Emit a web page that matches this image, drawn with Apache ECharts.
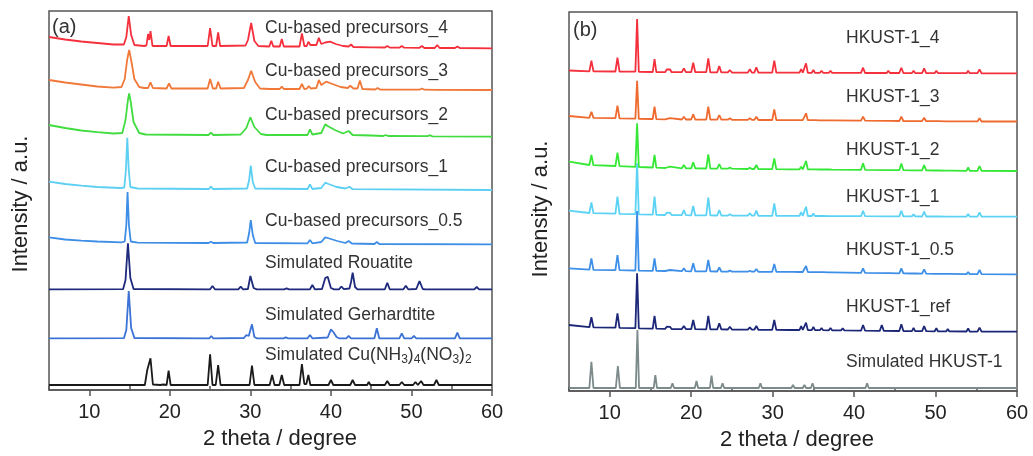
<!DOCTYPE html>
<html>
<head>
<meta charset="utf-8">
<script src="https://cdn.jsdelivr.net/npm/echarts@6/dist/echarts.min.js"></script>
<style>
  html, body { margin: 0; padding: 0; background: #fff; }
  #chart { width: 1033px; height: 456px; }
</style>
</head>
<body>
<div id="chart"></div>
<script>
// ---------- axis ticks ----------
const thetaTicks = [10, 20, 30, 40, 50, 60];
const thetaMinorTicks = [5, 15, 25, 35, 45, 55];

// ---------- panel (a): Cu-based precursors, [2theta, stacked intensity] ----------
const namesA = [
  'Cu-based precursors_4', 'Cu-based precursors_3', 'Cu-based precursors_2',
  'Cu-based precursors_1', 'Cu-based precursors_0.5', 'Simulated Rouatite',
  'Simulated Gerhardtite', 'Simulated Cu(NH3)4(NO3)2'
];

const precursor4 = [
  [5,353],[7,350.5],[9,348.5],[11,347],[13,345.5],[14.3,345.5],[14.6,353],[14.9,374],[15.2,355],[15.6,345],[16.8,344],
  [17.1,344.5],[17.3,356],[17.45,350],[17.6,359],[17.85,344],
  [19.6,344],[19.85,354],[20.1,344],
  [24.7,344],[25.0,362],[25.3,344],[25.75,344],[26.0,357.7],[26.25,344],
  [29.4,344.5],[29.7,350],[30.1,367],[30.5,349],[31,344],
  [32.35,343.5],[32.6,349.3],[32.85,343.5],
  [33.65,343.5],[33.9,351],[34.15,343.5],
  [36.1,343.5],[36.4,356.7],[36.7,344],[37.0,344],[37.2,348.3],[37.45,345],
  [38.2,345],[38.5,352.3],[38.8,346],[39.3,347.5],[39.9,348.3],[40.6,346],[41.5,344],
  [42.2,343.5],[42.5,345.5],[42.8,343],
  [45.0,342.7],[45.2,344],[45.4,342.7],
  [46.7,342.5],[47.0,344],[47.3,342.5],
  [48.5,342.3],[48.8,344],[49.1,342.3],
  [51.0,342.2],[51.3,344],[51.6,342],
  [52.9,342],[53.2,345],[53.5,342],
  [55.4,342],[55.7,343.5],[56.0,342],[60,341.7]
];

const precursor3 = [
  [5,310],[7,307.5],[9,305.5],[11,303.5],[13,302.3],[14.0,303],[14.4,311],[14.7,330],[14.95,340],[15.2,330],[15.6,311],[16.2,303],[16.8,302],
  [17.3,302],[17.6,307.7],[17.9,302],
  [19.6,301.5],[19.9,306.7],[20.2,301.5],
  [24.7,301.5],[25.0,311],[25.35,301.5],[25.75,301.5],[26.0,308.3],[26.3,301.5],
  [29.2,302],[29.7,310],[30.1,319.3],[30.6,308],[31.2,301.5],
  [32.4,301],[32.6,302.7],[32.85,301],
  [33.65,301],[33.9,303.3],[34.15,301],
  [36.1,301],[36.4,306],[36.7,301],[37.0,301.3],[37.25,304],[37.5,301.5],
  [38.2,302],[38.5,310],[38.8,305],[39.4,308.3],[40.2,306],[41.2,303],[42.1,302],[42.4,304.3],[42.8,301.5],
  [43.3,301.5],[43.6,309.5],[43.9,301],
  [45.5,300.5],[45.8,302],[46.1,300.5],
  [51.0,300.3],[51.3,301.5],[51.6,300.3],
  [53.0,300.2],[53.2,301.5],[53.4,300.2],[60,300]
];

const precursor2 = [
  [5,265],[7,262],[9,259.5],[11,257.8],[13,256.5],[14.1,257],[14.5,270],[14.8,290],[14.95,296.7],[15.15,288],[15.5,268],[16.2,257],[17,255.5],
  [24.8,255],[25.1,257.3],[25.4,255],
  [28.8,255.5],[29.5,262],[30.0,272.7],[30.5,263],[31.3,256],[32,255],
  [37.1,255],[37.4,260.7],[37.7,255.5],[38.8,257],[39.3,265.7],[39.6,264],[40.5,260],[41.5,256.5],[42.2,259],[42.7,255],
  [45,254.5],[46.5,254],[46.8,255],[47.1,254],[52,253.8],[52.3,254.8],[52.6,253.6],[60,253.3]
];

const precursor1 = [
  [5,208.3],[7,206],[9,204.3],[11,203],[13.9,202],[14.35,202.5],[14.55,220],[14.72,252.3],[14.9,220],[15.1,203],[16,201.5],
  [24.85,201],[25.1,203.3],[25.35,201],
  [29.6,201.5],[29.85,210],[30.05,224.3],[30.3,208],[30.6,201.5],
  [37.1,201],[37.4,205.7],[37.7,201],[38.8,202],[39.3,207.3],[39.7,206],[40.7,203],[41.8,201.5],[42.3,203.3],[42.7,200.8],[60,200]
];

const precursor05 = [
  [5,152.7],[7,150.5],[9,149.3],[11,148.5],[14.0,147.7],[14.4,148.5],[14.6,165],[14.75,198],[14.92,165],[15.15,148.5],[16,147.3],
  [24.8,147],[25.1,148.3],[25.4,147],
  [29.6,147.5],[29.85,157],[30.05,170],[30.3,155],[30.6,147],
  [37.1,146.7],[37.4,150],[37.7,146.7],[38.8,148],[39.3,152.7],[39.8,151.5],[40.8,149],[41.8,147],[42.2,149],[42.6,146.5],
  [45.4,146],[45.7,148],[46.0,146],[60,145.7]
];

const rouatite = [
  [5,100.7],[14.2,100.8],[14.5,110],[14.8,146.7],[15.1,112],[15.5,101],
  [25.0,100.7],[25.3,104],[25.6,100.7],
  [28.5,100.7],[28.8,103.3],[29.1,100.7],
  [29.7,101],[30.0,114],[30.4,102],[30.8,100.7],
  [34.2,100.7],[34.5,101.7],[34.8,100.7],
  [37.4,100.7],[37.7,105],[38.0,100.7],
  [38.9,101],[39.3,112],[39.6,113.3],[40.0,102],[40.4,100.7],
  [41.0,100.7],[41.3,103.5],[41.6,100.9],
  [42.3,101.5],[42.5,108],[42.7,117.3],[43.0,103],[43.3,100.7],
  [46.7,100.7],[47.0,107.3],[47.3,100.7],
  [49.0,100.7],[49.3,104.3],[49.6,100.7],
  [50.6,101],[51.0,109],[51.4,101],[51.7,100.7],
  [57.8,100.7],[58.1,103],[58.4,100.7],[60,100.7]
];

const gerhardtite = [
  [5,51.7],[14.3,51.8],[14.6,60],[14.9,99],[15.2,62],[15.6,52],
  [24.9,51.7],[25.15,54],[25.4,51.7],
  [29.2,52],[29.5,55],[29.8,54],[30.2,65.7],[30.5,53],[30.8,51.7],
  [34.1,51.7],[34.4,52.7],[34.7,51.7],
  [37.1,51.7],[37.4,55],[37.7,51.7],
  [39.6,52.5],[40.0,60.7],[40.3,58],[40.7,53],[41.0,51.7],
  [41.9,51.7],[42.2,54],[42.5,51.7],
  [45.4,51.7],[45.7,61.7],[46.0,51.7],
  [48.5,51.7],[48.8,56.7],[49.1,51.7],
  [50.0,51.7],[50.3,54],[50.6,51.7],
  [55.4,51.7],[55.7,57.3],[56.0,51.7],[60,51.7]
];

const cuAmmineNitrate = [
  [5,5],[16.9,5],[17.2,20],[17.35,18],[17.6,31.7],[17.9,5.5],
  [18.8,5],[19.0,7],[19.2,5.5],
  [19.6,5],[19.85,19.3],[20.1,5],
  [24.7,5],[25.0,35.7],[25.3,5],[25.7,5],[26.0,25],[26.3,5],
  [29.9,5],[30.2,24.3],[30.5,5],
  [32.4,5],[32.7,15],[33.0,5],
  [33.6,5],[33.9,15],[34.2,5],
  [36.1,5],[36.4,26],[36.7,6],[36.95,6],[37.2,15],[37.45,5],
  [39.7,5],[40.0,10],[40.3,5],
  [42.4,5],[42.7,10],[43.0,5],
  [44.5,5],[44.7,8],[44.9,5],
  [46.7,5],[47.0,9],[47.3,5],
  [48.5,5],[48.8,8],[49.1,5],
  [50.2,5],[50.5,8],[50.8,5],[51.0,5],[51.2,9],[51.5,5],
  [52.8,5],[53.1,10],[53.4,5],
  [54.6,5],[54.8,7],[55.0,5],
  [57.0,5],[57.2,7],[57.4,5],
  [58.4,5],[58.6,7],[58.8,5],[60,5]
];

// ---------- panel (b): HKUST-1 samples, [2theta, stacked intensity] ----------
const namesB = [
  'HKUST-1_4', 'HKUST-1_3', 'HKUST-1_2', 'HKUST-1_1',
  'HKUST-1_0.5', 'HKUST-1_ref', 'Simulated HKUST-1'
];

const hkust4 = [
  [5,320.5],[7.5,319.6],[7.75,330.3],[8,319.6],
  [10.7,319.5],[10.95,333.3],[11.2,319.5],
  [13.15,319.3],[13.36,372],[13.57,319.2],
  [15.28,319],[15.5,332],[15.72,318.9],
  [16.8,318.8],[17.0,321.5],[17.4,321.7],[17.6,318.8],
  [18.85,318.8],[19.1,322.7],[19.35,318.8],
  [20.0,318.8],[20.25,328.3],[20.5,318.8],
  [21.85,318.8],[22.1,332.7],[22.35,318.7],
  [23.2,318.7],[23.45,325],[23.7,318.6],
  [24.5,318.6],[24.75,321],[25.0,318.5],
  [26.95,318.4],[27.2,321.7],[27.45,318.4],[27.75,318.4],[28.0,323.7],[28.25,318.3],
  [29.95,318.3],[30.2,330.3],[30.45,318.3],
  [32.1,318.3],[32.3,320],[32.5,318.3],
  [33.3,318.3],[33.5,322],[33.7,318.3],[33.88,318.3],[34.1,327.7],[34.32,318.2],
  [34.8,318.2],[35.0,321],[35.2,318.2],
  [35.8,318.2],[36.0,320.3],[36.2,318.2],
  [36.9,318.2],[37.1,320.3],[37.3,318.1],
  [40.85,318.1],[41.1,323.3],[41.35,318],
  [44.0,318],[44.2,320.3],[44.4,318],
  [45.55,318],[45.8,323.3],[46.05,318],
  [47.1,317.9],[47.3,320.3],[47.5,317.9],
  [48.35,317.9],[48.6,322.7],[48.85,317.9],
  [49.9,317.9],[50.1,320.3],[50.3,317.8],
  [51.3,317.8],[51.5,319.3],[51.7,317.8],
  [53.8,317.8],[54.0,320.3],[54.2,317.8],
  [55.15,317.8],[55.4,321.7],[55.65,317.7],[60,317.7]
];

const hkust3 = [
  [5,275],[7.5,273.2],[7.75,279.3],[8,273.1],
  [10.7,272.8],[10.95,285.3],[11.2,272.6],
  [13.15,272.3],[13.36,310.3],[13.57,272.2],
  [15.28,272],[15.5,284.3],[15.72,271.9],
  [16.8,271.7],[17.0,273],[17.4,272.8],[17.6,271.6],
  [18.85,271.5],[19.1,274.3],[19.35,271.5],
  [20.0,271.5],[20.25,276.7],[20.5,271.5],
  [21.85,271.4],[22.1,284.3],[22.35,271.4],
  [23.2,271.3],[23.45,276],[23.7,271.3],
  [24.5,271.3],[24.75,272.7],[25.0,271.2],
  [26.95,271.1],[27.2,272.7],[27.45,271.1],[27.75,271.1],[28.0,274.3],[28.25,271],
  [29.95,271],[30.2,281.7],[30.45,271],
  [32.1,270.9],[32.3,271.8],[32.5,270.9],
  [33.3,270.9],[33.5,272.7],[33.7,270.9],[33.88,270.9],[34.1,277.7],[34.32,270.8],
  [34.8,270.8],[35.0,272],[35.2,270.8],
  [35.8,270.7],[36.0,271.8],[36.2,270.7],
  [36.9,270.6],[37.1,271.8],[37.3,270.6],
  [40.85,270.3],[41.1,274.3],[41.35,270.3],
  [44.0,270.1],[44.2,271.3],[44.4,270.1],
  [45.55,270],[45.8,274.3],[46.05,270],
  [47.1,269.9],[47.3,271.3],[47.5,269.9],
  [48.35,269.9],[48.6,273.3],[48.85,269.8],
  [49.9,269.8],[50.1,271],[50.3,269.8],
  [51.3,269.7],[51.5,271],[51.7,269.7],
  [53.8,269.6],[54.0,271.3],[54.2,269.6],
  [55.15,269.6],[55.4,272.7],[55.65,269.5],[60,269.5]
];

const hkust2 = [
  [5,229.3],[7.5,226],[7.75,236],[8,225.8],
  [10.7,225],[10.95,238.3],[11.2,224.8],
  [13.15,224.2],[13.36,267.7],[13.57,224],
  [15.28,223.5],[15.5,236],[15.72,223.3],
  [16.8,223],[17.0,224.3],[17.4,224.3],[17.6,222.9],
  [18.85,222.7],[19.1,226],[19.35,222.7],
  [20.0,222.6],[20.25,228.7],[20.5,222.6],
  [21.85,222.5],[22.1,236.7],[22.35,222.5],
  [23.2,222.4],[23.45,227],[23.7,222.4],
  [24.5,222.3],[24.75,223.5],[25.0,222.3],
  [26.95,222],[27.2,223.3],[27.45,222],[27.75,222],[28.0,226],[28.25,221.9],
  [29.95,221.8],[30.2,232.7],[30.45,221.8],
  [32.1,221.7],[32.3,222.5],[32.5,221.7],
  [33.3,221.7],[33.5,224.3],[33.7,221.7],[33.88,221.7],[34.1,230],[34.32,221.6],
  [34.8,221.6],[35.0,223.5],[35.2,221.6],
  [35.8,221.5],[36.0,222.7],[36.2,221.5],
  [36.9,221.5],[37.1,222.7],[37.3,221.4],
  [40.85,221.2],[41.1,227.7],[41.35,221.2],
  [44.0,220.9],[44.2,221.9],[44.4,220.9],
  [45.55,220.8],[45.8,227.5],[46.05,220.8],
  [47.1,220.7],[47.3,222.7],[47.5,220.7],
  [48.35,220.6],[48.6,226],[48.85,220.6],
  [49.9,220.5],[50.1,221.7],[50.3,220.5],
  [51.3,220.4],[51.5,221.2],[51.7,220.4],
  [53.8,220.2],[54.0,223.7],[54.2,220.2],
  [55.15,220.1],[55.4,225],[55.65,220.1],[60,220]
];

const hkust1 = [
  [5,180.3],[7.5,178],[7.75,188.7],[8,177.9],
  [10.7,177.3],[10.95,194.3],[11.2,177.2],
  [13.15,176.8],[13.36,227.7],[13.57,176.7],
  [15.28,176.3],[15.5,194.3],[15.72,176.2],
  [16.8,176],[17.0,178.3],[17.4,178.2],[17.6,175.9],
  [18.85,175.8],[19.1,181],[19.35,175.8],
  [20.0,175.7],[20.25,185],[20.5,175.7],
  [21.85,175.6],[22.1,193.5],[22.35,175.6],
  [23.2,175.5],[23.45,181],[23.7,175.5],
  [24.5,175.4],[24.75,176.7],[25.0,175.4],
  [26.95,175.3],[27.2,177.7],[27.45,175.3],[27.75,175.3],[28.0,180.3],[28.25,175.2],
  [29.95,175.2],[30.2,187.7],[30.45,175.2],
  [32.1,175.1],[32.3,176.5],[32.5,175.1],
  [33.3,175.1],[33.5,179],[33.7,175.1],[33.88,175.1],[34.1,184.3],[34.32,175],
  [34.8,175],[35.0,177.5],[35.2,175],
  [35.8,175],[36.0,176.7],[36.2,175],
  [36.9,174.9],[37.1,176.7],[37.3,174.9],
  [40.85,174.8],[41.1,180.3],[41.35,174.8],
  [44.0,174.7],[44.2,176.5],[44.4,174.7],
  [45.55,174.6],[45.8,180.3],[46.05,174.6],
  [47.1,174.6],[47.3,176.7],[47.5,174.6],
  [48.35,174.5],[48.6,179.3],[48.85,174.5],
  [49.9,174.5],[50.1,176.5],[50.3,174.5],
  [51.3,174.4],[51.5,176],[51.7,174.4],
  [53.8,174.4],[54.0,177],[54.2,174.4],
  [55.15,174.3],[55.4,178.7],[55.65,174.3],[60,174.3]
];

const hkust05 = [
  [5,122.7],[7.5,121.3],[7.75,132.7],[8,121.2],
  [10.7,120.9],[10.95,136],[11.2,120.8],
  [13.15,120.5],[13.36,180],[13.57,120.4],
  [15.28,120.2],[15.5,132.7],[15.72,120.1],
  [16.8,120],[17.0,121],[17.4,121],[17.6,119.9],
  [18.85,119.8],[19.1,122.7],[19.35,119.8],
  [20.0,119.7],[20.25,127.7],[20.5,119.7],
  [21.85,119.6],[22.1,131],[22.35,119.6],
  [23.2,119.5],[23.45,123.7],[23.7,119.5],
  [24.5,119.4],[24.75,120.5],[25.0,119.4],
  [26.95,119.3],[27.2,120.3],[27.45,119.3],[27.75,119.3],[28.0,122],[28.25,119.2],
  [29.95,119.2],[30.2,127],[30.45,119.2],
  [32.1,119.1],[32.3,119.9],[32.5,119.1],
  [33.3,119],[33.5,121],[33.7,119],[33.88,119],[34.1,125],[34.32,118.9],
  [34.8,118.9],[35.0,120],[35.2,118.9],
  [35.8,118.8],[36.0,119.6],[36.2,118.8],
  [36.9,118.7],[37.1,119.5],[37.3,118.7],
  [40.85,118.2],[41.1,122.7],[41.35,118.2],
  [44.0,117.9],[44.2,119],[44.4,117.9],
  [45.55,117.7],[45.8,122.7],[46.05,117.7],
  [47.1,117.5],[47.3,119],[47.5,117.5],
  [48.35,117.4],[48.6,121.7],[48.85,117.4],
  [49.9,117.2],[50.1,118.7],[50.3,117.2],
  [51.3,117.1],[51.5,118.5],[51.7,117.1],
  [53.8,116.9],[54.0,119],[54.2,116.9],
  [55.15,116.8],[55.4,121],[55.65,116.8],[60,116.7]
];

const hkustRef = [
  [5,66],[7.5,63.8],[7.75,73.7],[8,63.7],
  [10.7,63.3],[10.95,77.7],[11.2,63.2],
  [13.15,62.8],[13.36,117.7],[13.57,62.7],
  [15.28,62.4],[15.5,75],[15.72,62.3],
  [16.8,62.1],[17.0,64.3],[17.4,64.2],[17.6,62],
  [18.85,61.9],[19.1,65],[19.35,61.9],
  [20.0,61.8],[20.25,71],[20.5,61.8],
  [21.85,61.7],[22.1,75],[22.35,61.7],
  [23.2,61.6],[23.45,67.7],[23.7,61.6],
  [24.5,61.5],[24.75,64.3],[25.0,61.5],
  [26.95,61.3],[27.2,63.7],[27.45,61.3],[27.75,61.3],[28.0,65],[28.25,61.2],
  [29.95,61.1],[30.2,71],[30.45,61.1],
  [32.1,61],[32.3,63],[32.5,61],
  [33.3,61],[33.5,65],[33.7,61],[33.88,61],[34.1,68.3],[34.32,60.9],
  [34.8,60.9],[35.0,64],[35.2,60.9],
  [35.8,60.8],[36.0,63],[36.2,60.8],
  [36.9,60.7],[37.1,63],[37.3,60.7],
  [38.4,60.6],[38.6,62.7],[38.8,60.6],
  [40.85,60.3],[41.1,66],[41.35,60.3],
  [43.15,60.1],[43.4,66],[43.65,60.1],
  [45.55,60],[45.8,66.7],[46.05,60],
  [47.1,59.9],[47.3,63],[47.5,59.9],
  [48.35,59.8],[48.6,65],[48.85,59.8],
  [49.9,59.7],[50.1,62.7],[50.3,59.7],
  [51.3,59.6],[51.5,62],[51.7,59.6],
  [53.8,59.5],[54.0,62.7],[54.2,59.5],
  [55.15,59.4],[55.4,63.3],[55.65,59.4],[60,59.3]
];

const hkustSimulated = [
  [5,3],[7.5,3],[7.75,29.3],[8.0,3],
  [10.75,3],[11.0,25],[11.25,3],
  [13.2,3],[13.4,61],[13.6,3],
  [15.4,3],[15.6,16],[15.8,3],
  [17.5,3],[17.7,7.7],[17.9,3],
  [19.35,3],[19.5,4.3],[19.65,3],
  [20.45,3],[20.65,10],[20.85,3],
  [22.3,3],[22.5,15.3],[22.7,3],
  [23.65,3],[23.85,7.7],[24.05,3],
  [24.95,3],[25.15,5],[25.35,3],
  [26.3,3],[26.5,5],[26.7,3],
  [28.3,3],[28.5,7.7],[28.7,3],
  [30.6,3],[30.8,4.3],[31.0,3],
  [32.3,3],[32.5,6],[32.7,3],
  [33.7,3],[33.9,6],[34.1,3],
  [34.7,3],[34.9,7.7],[35.1,3],
  [36.4,3],[36.6,4.3],[36.8,3],
  [41.4,3],[41.6,7.7],[41.8,3],
  [46.0,3],[46.2,5],[46.4,3],
  [49.8,3],[50.0,4],[50.2,3],[60,3]
];

// ---------- drawing ----------
const FONT = "'Liberation Sans', Arial, Helvetica, sans-serif";
const FRAME = '#555';

const seriesA = [precursor4, precursor3, precursor2, precursor1, precursor05, rouatite, gerhardtite, cuAmmineNitrate];
const colorsA = ['#f5303d', '#f07838', '#40dc40', '#5ccff2', '#3f8ee6', '#1e2a7c', '#3b72d6', '#1a1a1a'];
const seriesB = [hkust4, hkust3, hkust2, hkust1, hkust05, hkustRef, hkustSimulated];
const colorsB = ['#f5303d', '#ef6a2e', '#36e836', '#5cd3f5', '#3d8fe8', '#1c2778', '#7c8a8a'];

// label layout (pixels)
const labelLeftA = 265, labelYA = [28, 71, 115, 167, 221, 263.5, 315, 355];
const labelLeftB = 846, labelYB = [38.5, 97.5, 150, 197.5, 250, 307.5, 362];

function xAxes(gridIndex) {
  return [
    {
      type: 'value', gridIndex, min: 5, max: 60,
      axisLine: { show: true, onZero: false, lineStyle: { color: FRAME, width: 1.5 } },
      axisTick: { show: true, customValues: thetaTicks, length: 6, lineStyle: { color: FRAME, width: 1.5 } },
      axisLabel: { customValues: thetaTicks, fontSize: 20, color: '#222', margin: 12, fontFamily: FONT },
      splitLine: { show: false }
    },
    {
      type: 'value', gridIndex, min: 5, max: 60,
      axisLine: { show: false },
      axisTick: { show: true, customValues: thetaMinorTicks, length: 4, lineStyle: { color: FRAME, width: 1.5 } },
      axisLabel: { show: false },
      splitLine: { show: false }
    }
  ];
}

function lineSeries(data, color, xIdx, yIdx, name) {
  return {
    type: 'line', name, data, xAxisIndex: xIdx, yAxisIndex: yIdx,
    showSymbol: false, symbol: 'none', clip: true, silent: true,
    lineStyle: { color, width: 1.8 }
  };
}

function text(str, x, y, extra) {
  return {
    type: 'text', x, y, silent: true, z: 100,
    style: Object.assign({
      text: str, fill: '#333', fontSize: 17.5, fontFamily: FONT,
      align: 'left', textAlign: 'left', verticalAlign: 'middle', textVerticalAlign: 'middle'
    }, extra || {})
  };
}

const graphics = [];
namesA.forEach((n, i) => {
  if (n.indexOf('Cu(NH3)4(NO3)2') >= 0) {
    graphics.push(text('{n|Simulated Cu(NH}{s|3}{n|)}{s|4}{n|(NO}{s|3}{n|)}{s|2}', labelLeftA, labelYA[i], {
      rich: {
        n: { fontSize: 17.5, fontFamily: FONT, fill: '#333', lineHeight: 22 },
        s: { fontSize: 12, fontFamily: FONT, fill: '#333', lineHeight: 12, verticalAlign: 'bottom' }
      }
    }));
  } else {
    graphics.push(text(n, labelLeftA, labelYA[i]));
  }
});
namesB.forEach((n, i) => graphics.push(text(n, labelLeftB, labelYB[i])));

graphics.push(text('(a)', 52, 27, { fontSize: 20 }));
graphics.push(text('(b)', 573, 30, { fontSize: 20 }));
graphics.push(text('2 theta / degree', 280, 439, { fontSize: 22, fill: '#222', align: 'center', textAlign: 'center' }));
graphics.push(text('2 theta / degree', 797, 440, { fontSize: 22, fill: '#222', align: 'center', textAlign: 'center' }));
graphics.push(Object.assign(text('Intensity / a.u.', 21, 204, { fontSize: 22, fill: '#222', align: 'center', textAlign: 'center' }), { rotation: Math.PI / 2 }));
graphics.push(Object.assign(text('Intensity / a.u.', 541, 209, { fontSize: 22, fill: '#222', align: 'center', textAlign: 'center' }), { rotation: Math.PI / 2 }));

const option = {
  animation: false,
  backgroundColor: '#fff',
  grid: [
    { left: 49, top: 11, width: 443, height: 379, show: true, borderColor: FRAME, borderWidth: 1.5, backgroundColor: 'transparent' },
    { left: 569, top: 12, width: 448, height: 379, show: true, borderColor: FRAME, borderWidth: 1.5, backgroundColor: 'transparent' }
  ],
  xAxis: [...xAxes(0), ...xAxes(1)],
  yAxis: [
    { type: 'value', gridIndex: 0, min: 0, max: 379, show: false },
    { type: 'value', gridIndex: 1, min: 0, max: 379, show: false }
  ],
  series: [
    ...seriesA.map((d, i) => lineSeries(d, colorsA[i], 0, 0, namesA[i])),
    ...seriesB.map((d, i) => lineSeries(d, colorsB[i], 2, 1, namesB[i]))
  ],
  graphic: graphics
};

const chart = echarts.init(document.getElementById('chart'), null, { renderer: 'canvas' });
chart.setOption(option);
</script>
</body>
</html>
